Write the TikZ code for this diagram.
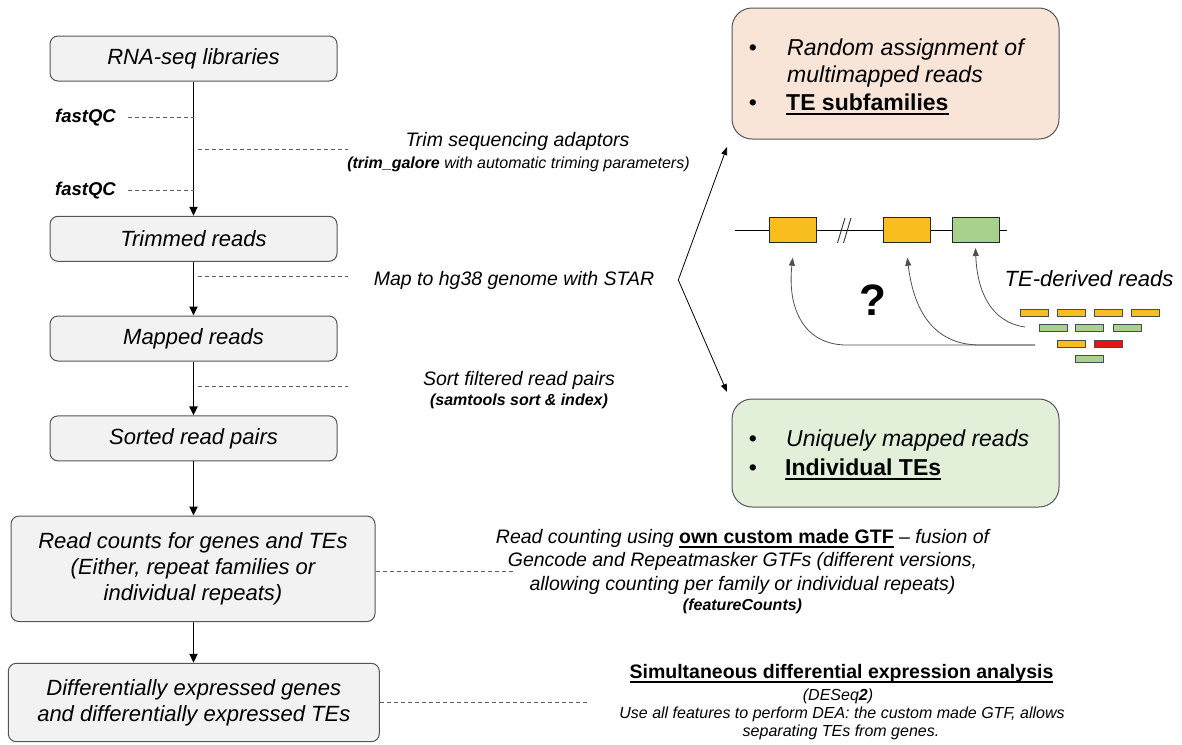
\documentclass[tikz,border=0pt]{standalone}
\usepackage{fontspec}
\setmainfont{Liberation Sans}
\usetikzlibrary{arrows.meta}
\definecolor{boxfill}{RGB}{242,242,242}
\definecolor{boxline}{RGB}{85,85,85}
\definecolor{pinkfill}{RGB}{248,229,216}
\definecolor{greenfill}{RGB}{226,239,217}
\definecolor{teyellow}{RGB}{248,190,30}
\definecolor{tegreen}{RGB}{169,209,142}
\definecolor{tered}{RGB}{230,20,20}
\definecolor{dashgray}{RGB}{95,95,95}
\definecolor{curvegray}{RGB}{80,80,80}
\newcommand\ulbar[1]{\setbox0\hbox{#1}\rlap{\rule[-4.5pt]{\wd0}{2pt}}\box0\relax}
\newcommand\fsz[2]{\fontsize{#1}{#2}\selectfont}
\begin{document}
\begin{tikzpicture}[x=1pt,y=-1pt,
  flow/.style={draw=boxline, line width=1pt, fill=boxfill, rounded corners=8pt,
    minimum width=287pt, minimum height=45pt, font=\fsz{22}{26}\itshape, align=center, inner sep=0pt},
  bigbox/.style={draw=boxline, line width=1pt, rounded corners=20pt, minimum width=327pt, inner sep=0pt},
  arr/.style={line width=1.9pt, -{Triangle[length=9pt,width=8pt]}},
  thinarr/.style={line width=0.8pt, -{Triangle[length=8pt,width=6pt]}},
  curvearr/.style={curvegray, line width=0.8pt, -{Triangle[length=8pt,width=6pt]}},
  dsh/.style={dashgray, line width=1pt, dash pattern=on 4pt off 3pt},
  desc/.style={font=\fsz{19.5}{23.5}\itshape, inner sep=0pt},
  small/.style={font=\fsz{16}{19}\itshape, inner sep=0pt},
  fq/.style={font=\fsz{18.5}{22}\bfseries\itshape, inner sep=0pt},
  bul/.style={font=\fsz{23}{28}, inner sep=0pt},
  te/.style={draw=black!85, line width=1pt, minimum width=47pt, minimum height=25.5pt, inner sep=0pt},
  bar/.style={draw=black!70, line width=0.8pt, minimum width=28pt, minimum height=7pt, inner sep=0pt}
]
\useasboundingbox (0,0) rectangle (1182,744);

% ---------- flow column ----------
\node[flow] (b1) at (193.5,58.5) {RNA-seq libraries};
\node[flow] (b2) at (193.5,238.8) {Trimmed reads};
\node[flow] (b3) at (193.5,338.5) {Mapped reads};
\node[flow] (b4) at (193.5,438.4) {Sorted read pairs};
\node[flow, minimum width=364pt, minimum height=105.5pt] (b5) at (193,568.8)
  {Read counts for genes and TEs\\(Either, repeat families or\\individual repeats)};
\node[flow, minimum width=371pt, minimum height=78.4pt] (b6) at (193.8,702.5)
  {Differentially expressed genes\\and differentially expressed TEs};

\draw[arr] (b1.south) -- (b1.south |- b2.north);
\draw[arr] (b2.south) -- (b2.south |- b3.north);
\draw[arr] (b3.south) -- (b3.south |- b4.north);
\draw[arr] (b4.south) -- (b4.south |- b5.north);
\draw[arr] (b4.south |- b5.south) -- (b4.south |- b6.north);

% ---------- fastQC ----------
\node[fq, anchor=base west] (fq1) at (55,122.5) {fastQC};
\node[fq, anchor=base west] (fq2) at (55,195) {fastQC};
\draw[dsh] ([xshift=12pt]fq1.east) -- (fq1.east -| b1.south);
\draw[dsh] ([xshift=12pt]fq2.east) -- (fq2.east -| b1.south);

% ---------- step descriptions ----------
\coordinate (trs) at (197.7,149.3); \coordinate (tre) at (348.3,149.3);
\draw[dsh] (trs) -- (tre);
\node[desc, anchor=base] (trim1) at (517.5,146.7) {Trim sequencing adaptors};
\node[small, anchor=base] (trim2) at (518.5,168.3) {\textbf{(trim\_galore} with automatic triming parameters)};

\coordinate (mps) at (197.7,276.7); \coordinate (mpe) at (348.3,276.7);
\draw[dsh] (mps) -- (mpe);
\node[desc, anchor=base] (map) at (514,285) {Map to hg38 genome with STAR};

\coordinate (sts) at (197.7,386.7); \coordinate (ste) at (348.3,386.7);
\draw[dsh] (sts) -- (ste);
\node[desc, anchor=base] (sort1) at (519,385) {Sort filtered read pairs};
\node[small, anchor=base] (sort2) at (519,405) {\bfseries(samtools sort \& index)};

% ---------- fork arrows ----------
\coordinate (fork) at (678.3,280);
\coordinate (forkup) at (727,147);
\coordinate (forkdn) at (727,392);
\draw[thinarr] (fork) -- (forkup);
\draw[thinarr] (fork) -- (forkdn);

% ---------- pink box ----------
\node[bigbox, fill=pinkfill, minimum height=131pt] (pk) at (895.5,73.5) {};
\node[bul, anchor=base] (pkb1) at (753,55) {•};
\node[bul, anchor=base west, font=\fsz{23}{28}\itshape] (pkt1) at (787,55) {Random assignment of};
\node[bul, anchor=base west, font=\fsz{23}{28}\itshape] (pkt2) at (787,82.7) {multimapped reads};
\node[bul, anchor=base] (pkb2) at (753,110) {•};
\node[bul, anchor=base west, font=\fsz{23}{28}\bfseries] (pkt3) at (786,110) {\ulbar{TE subfamilies}};

% ---------- green box ----------
\node[bigbox, fill=greenfill, minimum height=108pt] (gr) at (895.5,453) {};
\node[bul, anchor=base] (grb1) at (753,446.7) {•};
\node[bul, anchor=base west, font=\fsz{23}{28}\itshape] (grt1) at (786,446.7) {Uniquely mapped reads};
\node[bul, anchor=base] (grb2) at (753,475) {•};
\node[bul, anchor=base west, font=\fsz{23}{28}\bfseries] (grt2) at (785,475) {\ulbar{Individual TEs}};

% ---------- genome ----------
\coordinate (gl) at (735,230.7); \coordinate (gr2) at (1006.7,230.7);
\draw[line width=1.4pt] (gl) -- (gr2);
\node[te, fill=teyellow] (te1) at (792.7,230) {};
\node[te, fill=teyellow] (te2) at (907.3,230) {};
\node[te, fill=tegreen] (te3) at (975.5,230) {};
\draw[line width=0.9pt, black!80] (837.5,243) -- (845,218);
\draw[line width=0.9pt, black!80] (843.5,243) -- (851,218);

\node[font=\fsz{44}{50}\bfseries, inner sep=0pt] (qm) at (873,300) {?};
\node[font=\fsz{22}{26}\itshape, inner sep=0pt, anchor=base] (tedr) at (1089,286.7) {TE-derived reads};

% ---------- reads ----------
\node[bar, fill=teyellow] (r11) at (1034,312.7) {};
\node[bar, fill=teyellow] (r12) at (1071,312.7) {};
\node[bar, fill=teyellow] (r13) at (1108,312.7) {};
\node[bar, fill=teyellow] (r14) at (1145,312.7) {};
\node[bar, fill=tegreen] (r21) at (1053,327.7) {};
\node[bar, fill=tegreen] (r22) at (1089.5,327.7) {};
\node[bar, fill=tegreen] (r23) at (1127,327.7) {};
\node[bar, fill=teyellow] (r31) at (1071,343.7) {};
\node[bar, fill=tered] (r32) at (1108,343.7) {};
\node[bar, fill=tegreen] (r41) at (1089.5,359) {};

\coordinate (rsrc) at (1035,345);
\coordinate (rsrc3) at (1025,327);
\draw[curvearr] (rsrc) -- (846.7,345) .. controls (805,345) and (787,310) .. (te1.south |- 0,257.7);
\draw[curvearr] (rsrc) -- (980,345) .. controls (930,345) and (913,305) .. (te2.south |- 0,257.7);
\draw[curvearr] (rsrc3) .. controls (990,322) and (977,290) .. (te3.south |- 0,248);

% ---------- counting ----------
\coordinate (d5e) at (515,571.7);
\draw[dsh] (b5.east |- d5e) -- (d5e);
\node[desc, anchor=base] (rc1) at (742.5,543) {Read counting using \ulbar{\bfseries\upshape own custom made GTF} -- fusion of};
\node[desc, anchor=base] (rc2) at (742.5,566.7) {Gencode and Repeatmasker GTFs (different versions,};
\node[desc, anchor=base] (rc3) at (742.5,590) {allowing counting per family or individual repeats)};
\node[small, anchor=base] (rc4) at (742.5,610) {\bfseries(featureCounts)};

% ---------- DEA ----------
\coordinate (d6e) at (588,702.5);
\draw[dsh] (b6.east) -- (d6e);
\node[desc, anchor=base, font=\fsz{19.5}{23.5}\bfseries] (de1) at (841.5,678.3) {\ulbar{Simultaneous differential expression analysis}};
\node[small, anchor=base] (de2) at (838,700) {(DESeq\textbf{2})};
\node[small, anchor=base] (de3) at (842,718.3) {Use all features to perform DEA: the custom made GTF, allows};
\node[small, anchor=base] (de4) at (841,736.7) {separating TEs from genes.};
\end{tikzpicture}
\end{document}
